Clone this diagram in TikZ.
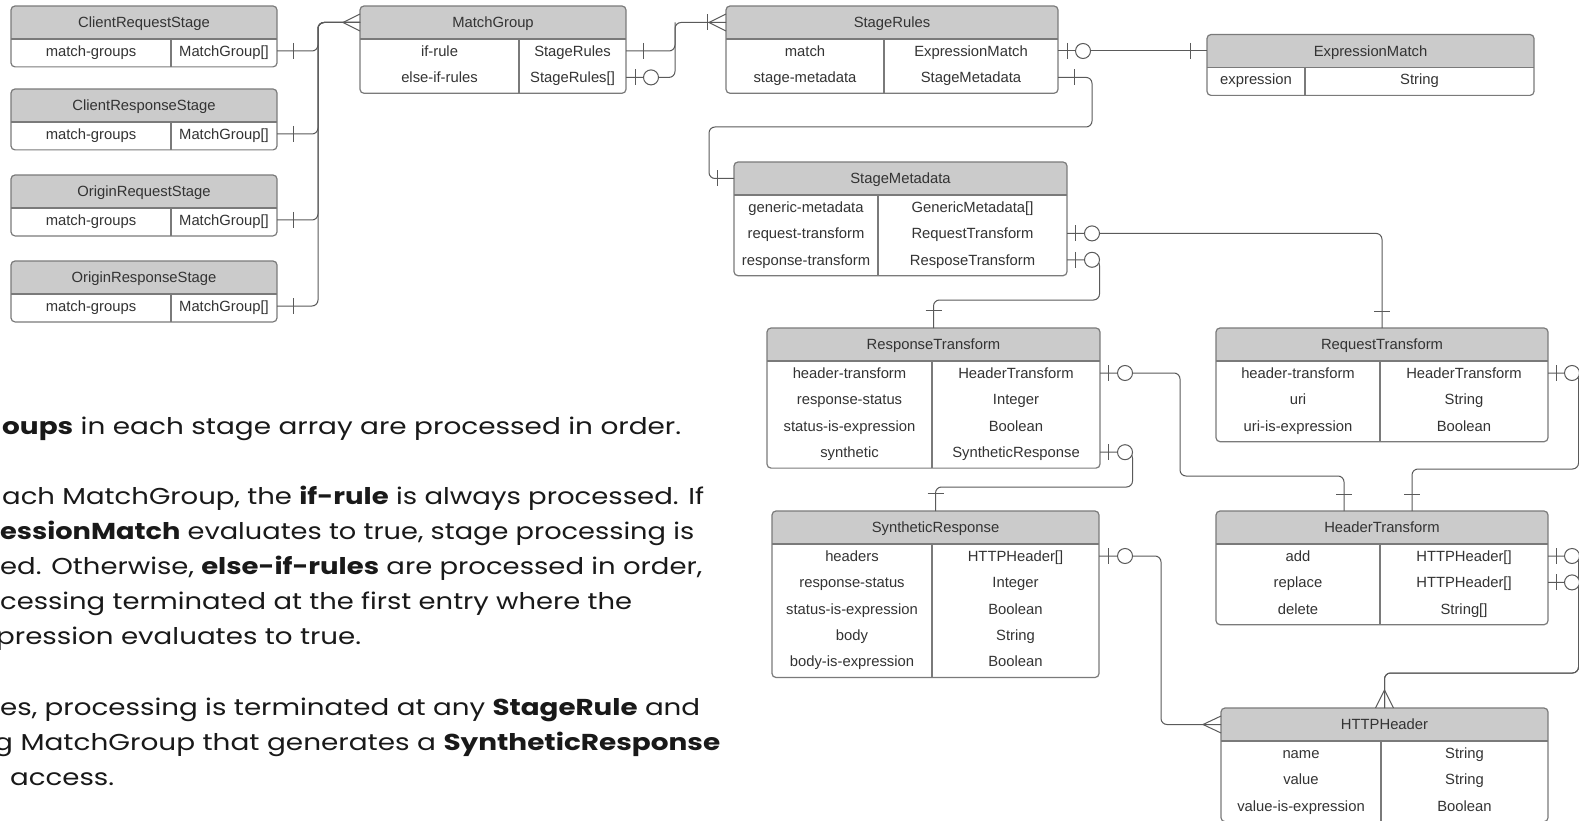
\documentclass[tikz,border=0pt]{standalone}
\usepackage{fontspec}
\usepackage{graphicx}
\setmainfont{Liberation Sans}
\newfontfamily\parafont{Poppins}
\usetikzlibrary{calc,fit}
\definecolor{linec}{HTML}{5A5A5A}
\definecolor{boxc}{HTML}{7A7A7A}
\definecolor{hdrc}{HTML}{CBCBCB}
\definecolor{txtc}{HTML}{333333}
\tikzset{
  conn/.style={draw=linec, line width=1pt, rounded corners=6pt},
  tick/.style={draw=linec, line width=1pt},
  opt/.style={draw=linec, line width=1pt, fill=white},
  cell/.style={text=txtc, font=\fontsize{14.8}{17}\selectfont, inner sep=0pt, anchor=base},
  para/.style={anchor=base west, inner sep=0pt, text=black!90, font=\parafont\fontsize{23}{28}\selectfont},
}
% #1 name, #2 left, #3 right, #4 divider, #5 top, #6 title, #7 rows
\newcommand\erbox[7]{%
  \xdef\rowsn{0}%
  \foreach \ka/\ta [count=\ii] in {#7} {\xdef\rowsn{\ii}}%
  \pgfmathsetmacro\Hb{#5+33}%
  \pgfmathsetmacro\Bt{\Hb+26.4*\rowsn+1.5}%
  \coordinate (#1-nw) at (#2,#5);
  \coordinate (#1-se) at (#3,\Bt);
  \node[fit=(#1-nw)(#1-se), inner sep=0pt, outer sep=0pt] (#1) {};
  \begin{scope}
    \clip[rounded corners=4pt] (#1-nw) rectangle (#1-se);
    \fill[hdrc] (#1-nw) rectangle (#3,\Hb);
  \end{scope}
  \draw[boxc, line width=1.2pt] (#2,\Hb) -- (#3,\Hb) (#4,\Hb) -- (#4,\Bt);
  \draw[boxc, line width=1.2pt, rounded corners=4pt] (#1-nw) rectangle (#1-se);
  \coordinate (#1-hl) at (#2,{#5+16.5});
  \node[cell] (#1-t) at ({(#2+#3)/2},{#5+16.5+5.3}) {#6};
  \foreach \ka/\ta [count=\ii] in {#7} {
    \pgfmathsetmacro\ry{\Hb+12+26.4*(\ii-1)}
    \coordinate (#1-r\ii) at (#3,\ry);
    \node[cell] (#1-k\ii) at ({(#2+#4)/2},{\ry+5.3}) {\ka};
    \node[cell] (#1-v\ii) at ({(#4+#3)/2},{\ry+5.3}) {\ta};
  }
}
\newcommand\pline[6]{% name, x1, width, baseline, text
  \node[para] (#1) at (#2,#4) {\resizebox{#3pt}{\height}{#5}};
}
\begin{document}
\begin{tikzpicture}[x=1pt,y=-1pt]
\useasboundingbox (0,0) rectangle (1579,821);
\fill[white] (0,0) rectangle (1579,821);

% ---------- entities ----------
\erbox{crq}{11}{277}{171}{6}{ClientRequestStage}{match-groups/MatchGroup[]}
\erbox{crs}{11}{277}{171}{89}{ClientResponseStage}{match-groups/MatchGroup[]}
\erbox{orq}{11}{277}{171}{175}{OriginRequestStage}{match-groups/MatchGroup[]}
\erbox{ors}{11}{277}{171}{261}{OriginResponseStage}{match-groups/MatchGroup[]}
\erbox{mg}{360}{626}{519}{6}{MatchGroup}{if-rule/StageRules,else-if-rules/StageRules[]}
\erbox{sr}{726}{1058}{884}{6}{StageRules}{match/ExpressionMatch,stage-metadata/StageMetadata}
\erbox{em}{1207}{1534}{1305}{34.5}{ExpressionMatch}{expression/String}
\erbox{smd}{734}{1067}{878}{162}{StageMetadata}{generic-metadata/GenericMetadata[],request-transform/RequestTransform,response-transform/ResposeTransform}
\erbox{rst}{767}{1100}{932}{328}{ResponseTransform}{header-transform/HeaderTransform,response-status/Integer,status-is-expression/Boolean,synthetic/SyntheticResponse}
\erbox{rqt}{1216}{1548}{1380}{328}{RequestTransform}{header-transform/HeaderTransform,uri/String,uri-is-expression/Boolean}
\erbox{syn}{772}{1099}{932}{511}{SyntheticResponse}{headers/HTTPHeader[],response-status/Integer,status-is-expression/Boolean,body/String,body-is-expression/Boolean}
\erbox{ht}{1216}{1548}{1380}{511}{HeaderTransform}{add/HTTPHeader[],replace/HTTPHeader[],delete/String[]}
\erbox{hh}{1221}{1548}{1381}{708}{HTTPHeader}{name/String,value/String,value-is-expression/Boolean}

% ---------- connectors ----------
\coordinate (bus1) at (318,22.5);
\foreach \s in {crq,crs,orq,ors} {
  \draw[conn] (\s-r1) -| (bus1) -- (mg-hl);
  \draw[tick] ($(\s-r1)+(16,-8)$) -- ($(\s-r1)+(16,8)$);
}
\draw[tick] ($(mg-hl)+(0,-8.5)$) -- ($(mg-hl)+(-17,0)$) -- ($(mg-hl)+(0,8.5)$);

\coordinate (bus2) at (675,22.5);
\draw[conn] (mg-r1) -| (bus2) -- (sr-hl);
\draw[conn] (mg-r2) -| (bus2);
\draw[tick] ($(mg-r1)+(17,-8)$) -- ($(mg-r1)+(17,8)$);
\draw[tick] ($(mg-r2)+(9,-8)$) -- ($(mg-r2)+(9,8)$);
\draw[opt] ($(mg-r2)+(25,0)$) circle (7.5pt);
\draw[tick] ($(sr-hl)+(0,-8.5)$) -- ($(sr-hl)+(-17,0)$) -- ($(sr-hl)+(0,8.5)$);
\draw[tick] ($(sr-hl)+(-19,-8)$) -- ($(sr-hl)+(-19,8)$);

\draw[conn] (sr-r1) -- (em-hl);
\draw[tick] ($(sr-r1)+(9,-8)$) -- ($(sr-r1)+(9,8)$);
\draw[opt] ($(sr-r1)+(25,0)$) circle (7.5pt);
\draw[tick] ($(em-hl)+(-17,-8)$) -- ($(em-hl)+(-17,8)$);

\coordinate (c1) at (1092,127);
\coordinate (c2) at (709,127);
\draw[conn] (sr-r2) -| (c1) -- (c2) |- (smd-hl);
\draw[tick] ($(sr-r2)+(16,-8)$) -- ($(sr-r2)+(16,8)$);
\draw[tick] ($(smd-hl)+(-17,-8)$) -- ($(smd-hl)+(-17,8)$);

\draw[conn] (smd-r2) -| (rqt.north);
\draw[tick] ($(smd-r2)+(8.5,-8)$) -- ($(smd-r2)+(8.5,8)$);
\draw[opt] ($(smd-r2)+(25,0)$) circle (7.5pt);
\draw[tick] ($(rqt.north)+(-8,-17)$) -- ($(rqt.north)+(8,-17)$);

\draw[conn] (smd-r3) -- ++(32.5,0) |- ($(rst.north)+(0,-28)$) -- (rst.north);
\draw[tick] ($(smd-r3)+(8.5,-8)$) -- ($(smd-r3)+(8.5,8)$);
\draw[opt] ($(smd-r3)+(25,0)$) circle (7.5pt);
\draw[tick] ($(rst.north)+(-8,-18)$) -- ($(rst.north)+(8,-18)$);

\coordinate (c3) at (1180,476);
\draw[conn] (rst-r1) -| (c3) -| ($(ht.north)+(-38,0)$);
\draw[tick] ($(rst-r1)+(8.5,-8)$) -- ($(rst-r1)+(8.5,8)$);
\draw[opt] ($(rst-r1)+(25,0)$) circle (7.5pt);
\draw[tick] ($(ht.north)+(-46,-17)$) -- ($(ht.north)+(-30,-17)$);

\draw[conn] (rst-r4) -- ++(32.5,0) |- ($(syn.north)+(0,-24)$) -- (syn.north);
\draw[tick] ($(rst-r4)+(8.5,-8)$) -- ($(rst-r4)+(8.5,8)$);
\draw[opt] ($(rst-r4)+(25,0)$) circle (7.5pt);
\draw[tick] ($(syn.north)+(-8,-18)$) -- ($(syn.north)+(8,-18)$);

\draw[conn] (rqt-r1) -- ++(30.5,0) |- ($(ht.north)+(30,-42)$) -- ($(ht.north)+(30,0)$);
\draw[tick] ($(rqt-r1)+(8.5,-8)$) -- ($(rqt-r1)+(8.5,8)$);
\draw[opt] ($(rqt-r1)+(24,0)$) circle (7.5pt);
\draw[tick] ($(ht.north)+(22,-17)$) -- ($(ht.north)+(38,-17)$);

\foreach \r in {ht-r1,ht-r2} {
  \draw[conn] (\r) -- ++(30.5,0) |- ($(hh.north)+(0,-35)$) -- (hh.north);
}
\foreach \r in {ht-r1,ht-r2} {
  \draw[tick] ($(\r)+(8.5,-8)$) -- ($(\r)+(8.5,8)$);
  \draw[opt] ($(\r)+(24,0)$) circle (7.5pt);
}
\draw[tick] ($(hh.north)+(-9,0)$) -- ($(hh.north)+(0,-18)$) -- ($(hh.north)+(9,0)$);

\draw[conn] (syn-r1) -| ($(hh-hl)+(-60,0)$) -- (hh-hl);
\draw[tick] ($(syn-r1)+(9.5,-8)$) -- ($(syn-r1)+(9.5,8)$);
\draw[opt] ($(syn-r1)+(26,0)$) circle (7.5pt);
\draw[tick] ($(hh-hl)+(0,-8.5)$) -- ($(hh-hl)+(-18,0)$) -- ($(hh-hl)+(0,8.5)$);

% ---------- notes ----------
\pline{p1}{2}{679}{434}{\textbf{oups} in each stage array are processed in order.}{}
\pline{p2}{2}{702}{504}{ach MatchGroup, the \textbf{if-rule} is always processed. If}{}
\pline{p3}{0}{694}{539}{\textbf{essionMatch} evaluates to true, stage processing is}{}
\pline{p4}{0}{702}{574}{ed. Otherwise, \textbf{else-if-rules} are processed in order,}{}
\pline{p5}{0}{632}{609}{cessing terminated at the first entry where the}{}
\pline{p6}{-4}{365}{644}{pression evaluates to true.}{}
\pline{p7}{0}{700}{715}{es, processing is terminated at any \textbf{StageRule} and}{}
\pline{p8}{-6}{726}{750}{g MatchGroup that generates a \textbf{SyntheticResponse}}{}
\pline{p9}{10}{104}{785}{access.}{}
\end{tikzpicture}
\end{document}
